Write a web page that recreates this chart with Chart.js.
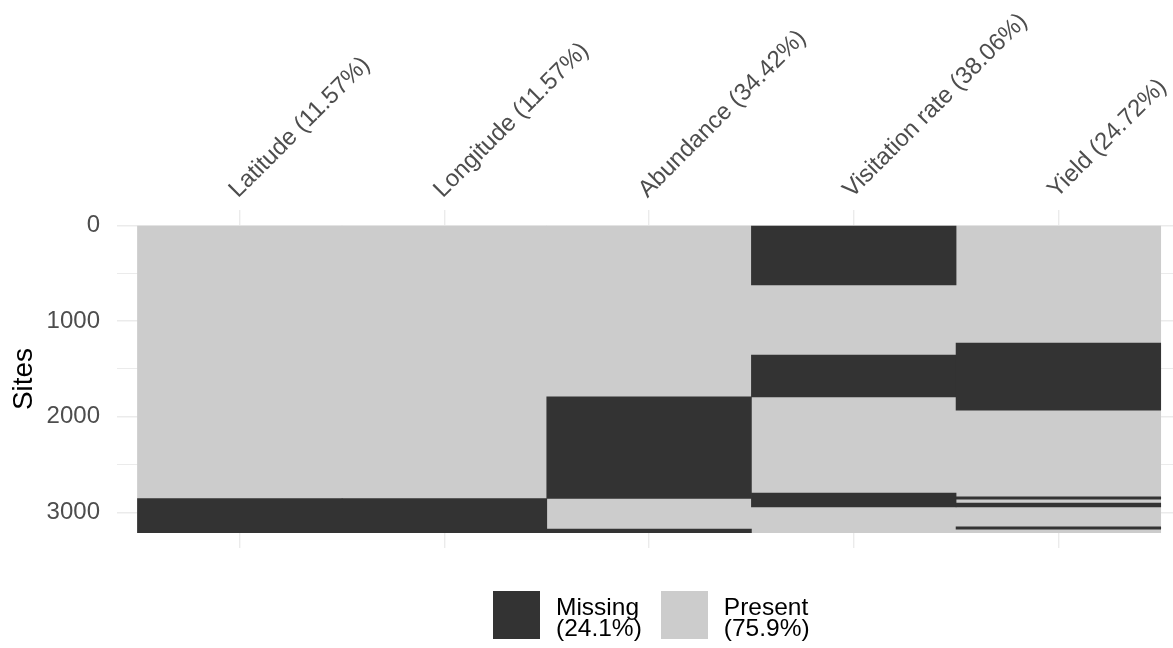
<!DOCTYPE html>
<html>
<head>
<meta charset="utf-8">
<title>Missing values by site</title>
<script src="https://cdn.jsdelivr.net/npm/chart.js@4.4.1/dist/chart.umd.min.js"></script>
<style>
    html, body { margin: 0; padding: 0; background: #ffffff; overflow: hidden; }
    #wrap { position: relative; width: 1173px; height: 648px; }
    #legend {
        position: absolute; left: 493px; top: 591px; display: flex;
        font-family: "Liberation Sans", Arial, sans-serif; font-size: 24.5px; line-height: 21px; color: #000000;
    }
    .legend-item { display: flex; align-items: flex-start; margin-right: 19px; }
    .legend-key { width: 47px; height: 48px; margin-right: 16px; }
    .legend-text { padding-top: 5px; }
</style>
</head>
<body>
<div id="wrap">
    <canvas id="missChart"></canvas>
    <div id="legend"></div>
</div>
<script>
const columnLabels = ["Latitude (11.57%)", "Longitude (11.57%)", "Abundance (34.42%)", "Visitation rate (38.06%)", "Yield (24.72%)"]
const nSites = 3211

// runs of missing rows in each column, [first site, last site]
const latitudeMissing = [[2855, 3211]]
const longitudeMissing = [[2855, 3211]]
const abundanceMissing = [[1791, 2854], [3175, 3211]]
const visitationMissing = [[0, 622], [1355, 1794], [2798, 2941]]
const yieldMissing = [[1229, 1930], [2837, 2861], [2903, 2941], [3151, 3175]]

const yTicks = [0, 500, 1000, 1500, 2000, 2500, 3000]

const legendLabels = ["Missing", "Present"]
const legendPercents = ["(24.1%)", "(75.9%)"]

const missingColor = "#333333"
const presentColor = "#cccccc"
const gridColor = "#ebebeb"
const fontFamily = "'Liberation Sans', Arial, sans-serif"

const missingByColumn = [latitudeMissing, longitudeMissing, abundanceMissing, visitationMissing, yieldMissing]

const missingData = []
missingByColumn.forEach((runs, i) => {
    runs.forEach(run => missingData.push({ x: i + 1, y: run }))
})

const presentData = columnLabels.map((label, i) => ({ x: i + 1, y: [0, nSites] }))

const yPad = nSites * 0.05

const ctx = document.getElementById("missChart").getContext("2d")

const chart = new Chart(ctx, {
    type: "bar",

    data: {
        datasets: [
            {
                label: "Missing",
                data: missingData,
                backgroundColor: missingColor,
                borderWidth: 0,
                grouped: false,
                barPercentage: 1,
                categoryPercentage: 1,
                order: 0
            },
            {
                label: "Present",
                data: presentData,
                backgroundColor: presentColor,
                borderWidth: 0,
                grouped: false,
                barPercentage: 1,
                categoryPercentage: 1,
                order: 1
            }
        ]
    },

    options: {
        responsive: true,
        maintainAspectRatio: false,
        animation: false,

        layout: {
            padding: { top: 0, left: 0, right: 0, bottom: 100 }
        },

        plugins: {
            legend: { display: false },
            tooltip: { enabled: false }
        },

        scales: {
            x: {
                type: "linear",
                position: "top",
                min: 0.4,
                max: 5.56,
                offset: false,
                grid: {
                    offset: false,
                    color: gridColor,
                    lineWidth: 1.4,
                    drawTicks: false
                },
                border: { display: false },
                ticks: {
                    autoSkip: false,
                    minRotation: 45,
                    maxRotation: 45,
                    padding: 6,
                    labelOffset: 14,
                    color: "#4d4d4d",
                    font: { family: fontFamily, size: 24 },
                    callback: value => columnLabels[value - 1] || ""
                },
                afterBuildTicks: scale => {
                    scale.ticks = columnLabels.map((label, i) => ({ value: i + 1 }))
                },
                afterFit: scale => {
                    scale.height = 210
                    scale.paddingLeft = 0
                    scale.paddingRight = 0
                }
            },

            y: {
                type: "linear",
                reverse: true,
                min: -yPad,
                max: nSites + yPad,
                grid: {
                    color: gridColor,
                    lineWidth: c => (c.tick && c.tick.value % 1000 === 0) ? 1.4 : 1,
                    drawTicks: false
                },
                border: { display: false },
                ticks: {
                    padding: 17,
                    color: "#4d4d4d",
                    font: { family: fontFamily, size: 24 },
                    callback: value => (value % 1000 === 0) ? String(value) : ""
                },
                title: {
                    display: true,
                    text: "Sites",
                    color: "#000000",
                    padding: { top: 7, bottom: 0 },
                    font: { family: fontFamily, size: 28, lineHeight: 1.2 }
                },
                afterBuildTicks: scale => {
                    scale.ticks = yTicks.map(v => ({ value: v }))
                },
                afterFit: scale => {
                    scale.width = 117
                    scale.paddingTop = 0
                    scale.paddingBottom = 0
                }
            }
        }
    }
})

const legendBox = document.getElementById("legend")
const legendColors = [missingColor, presentColor]

legendLabels.forEach((name, i) => {
    const item = document.createElement("div")
    item.className = "legend-item"
    item.innerHTML = `<span class="legend-key" style="background:${legendColors[i]}"></span>` +
        `<span class="legend-text">${name}<br>${legendPercents[i]}</span>`
    legendBox.appendChild(item)
})
</script>
</body>
</html>
